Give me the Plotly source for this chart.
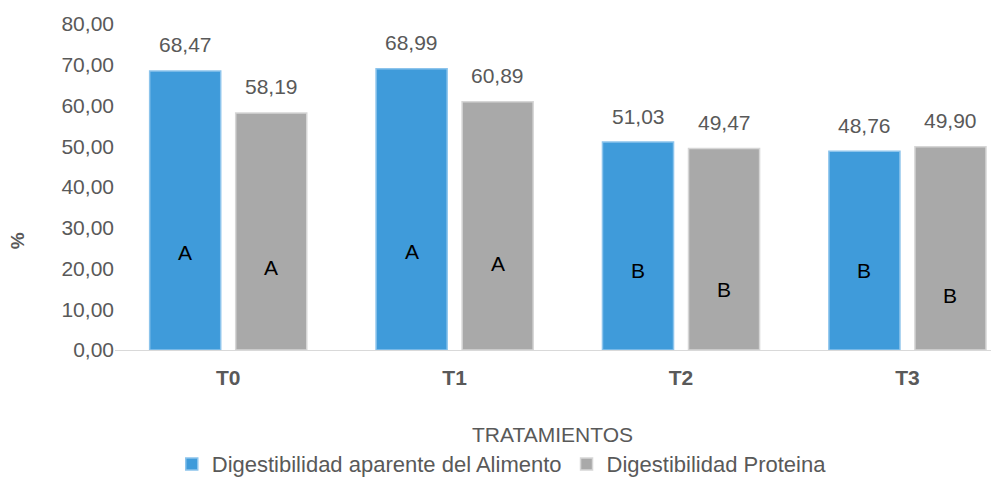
import plotly.graph_objects as go

categories = ["T0", "T1", "T2", "T3"]
alimento = [68.47, 68.99, 51.03, 48.76]
proteina = [58.19, 60.89, 49.47, 49.90]
letters_alimento = ["A", "A", "B", "B"]
letters_proteina = ["A", "A", "B", "B"]
y_ticks = [0, 10, 20, 30, 40, 50, 60, 70, 80]

# letter heights (as fraction of bar height), styling only
frac_alimento = [0.35, 0.35, 0.38, 0.40]
frac_proteina = [0.35, 0.35, 0.30, 0.27]

BLUE = "#3F9BDA"
GRAY = "#A9A9A9"
TXT = "#595959"
FONT = "Liberation Sans, Arial, sans-serif"


def fmt(v):
    return f"{v:.2f}".replace(".", ",")


fig = go.Figure()
fig.add_trace(go.Bar(
    x=categories, y=alimento, name="Digestibilidad aparente del Alimento",
    marker=dict(color=BLUE, line=dict(color="#8CC4EC", width=1.5)),
))
fig.add_trace(go.Bar(
    x=categories, y=proteina, name="Digestibilidad Proteina",
    marker=dict(color=GRAY, line=dict(color="#D6D6D6", width=1.5)),
))

ann = []
off = 0.19
for i, c in enumerate(categories):
    ann.append(dict(x=i - off, y=alimento[i], text=fmt(alimento[i]), showarrow=False,
                    xref="x", yref="y", yshift=26, font=dict(size=21, color=TXT)))
    ann.append(dict(x=i + off, y=proteina[i], text=fmt(proteina[i]), showarrow=False,
                    xref="x", yref="y", yshift=26, font=dict(size=21, color=TXT)))
    ann.append(dict(x=i - off, y=alimento[i] * frac_alimento[i], text=letters_alimento[i],
                    showarrow=False, xref="x", yref="y", font=dict(size=21, color="#000000")))
    ann.append(dict(x=i + off, y=proteina[i] * frac_proteina[i], text=letters_proteina[i],
                    showarrow=False, xref="x", yref="y", font=dict(size=21, color="#000000")))

# axis titles as annotations (paper coords)
ann.append(dict(x=-0.111, y=0.337, xref="paper", yref="paper", xanchor="center", yanchor="middle",
                text="<b>%</b>", textangle=-90,
                showarrow=False, font=dict(size=19, color=TXT)))
ann.append(dict(x=0.496, y=-0.258, xref="paper", yref="paper", xanchor="center", yanchor="middle",
                text="TRATAMIENTOS",
                showarrow=False, font=dict(size=21, color=TXT)))

fig.update_layout(
    width=999, height=479,
    margin=dict(l=107, r=9, t=16, b=137, autoexpand=False),
    plot_bgcolor="white", paper_bgcolor="white",
    separators=",.",
    barmode="group", bargap=0.24, bargroupgap=0.174,
    font=dict(family=FONT, color=TXT),
    showlegend=True,
    legend=dict(orientation="h", x=0.438, xanchor="center", y=-0.35, yanchor="middle",
                font=dict(size=22, color=TXT, family=FONT),
                traceorder="normal", itemwidth=30, tracegroupgap=0,
                bgcolor="rgba(0,0,0,0)"),
    annotations=ann,
)
fig.update_xaxes(
    range=[-0.5, 3.4], automargin=False,
    showline=True, linecolor="#D9D9D9", linewidth=1,
    tickfont=dict(size=21, color=TXT, family=FONT),
    tickprefix="<b>", ticksuffix="</b>", ticks="", ticklen=0, ticklabelstandoff=9,
)
fig.update_yaxes(
    range=[0, 80], tickvals=y_ticks, tickformat=".2f", showgrid=False, zeroline=False,
    automargin=False, tickfont=dict(size=21, color=TXT), ticks="", ticklen=0,
)
fig.write_html("out.html")
